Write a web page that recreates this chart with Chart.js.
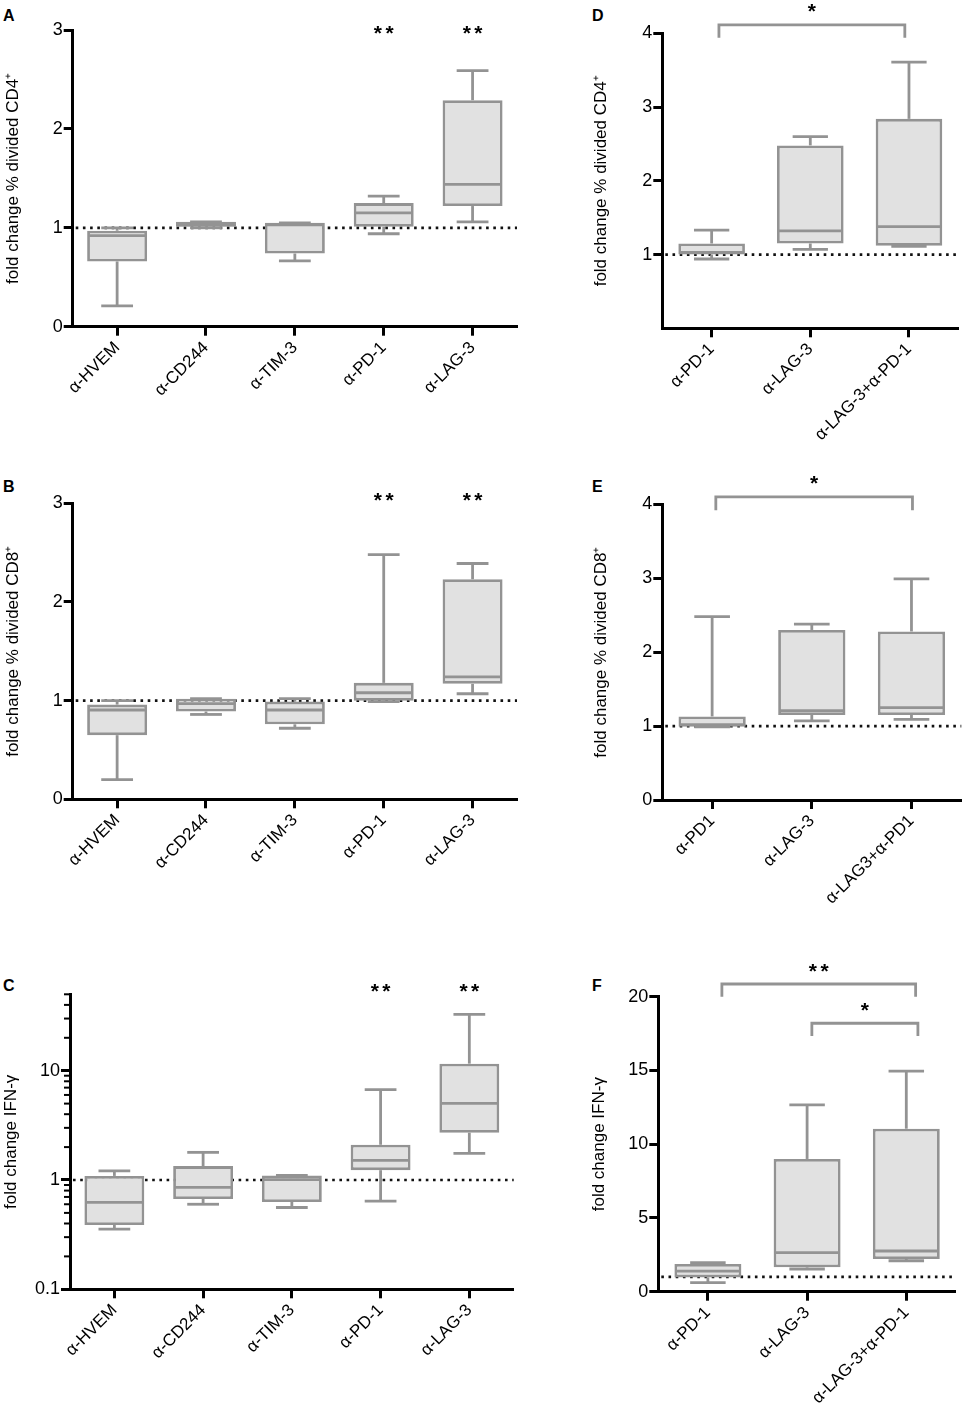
<!DOCTYPE html>
<html>
<head>
<meta charset="utf-8">
<script src="https://cdn.jsdelivr.net/npm/chart.js@4.4.1/dist/chart.umd.min.js"></script>
<style>
html,body{margin:0;padding:0;background:#fff;}
body{width:965px;height:1413px;position:relative;overflow:hidden;font-family:"Liberation Sans",Arial,Helvetica,sans-serif;}
canvas{position:absolute;}
.lbl{position:absolute;font-weight:bold;font-size:16px;line-height:1;color:#000;}
</style>
</head>
<body>
<div class="lbl" style="left:3px;top:8px;">A</div>
<div class="lbl" style="left:3px;top:479px;">B</div>
<div class="lbl" style="left:3px;top:978px;">C</div>
<div class="lbl" style="left:592px;top:8px;">D</div>
<div class="lbl" style="left:592px;top:479px;">E</div>
<div class="lbl" style="left:592px;top:978px;">F</div>
<canvas id="pA"></canvas>
<canvas id="pB"></canvas>
<canvas id="pC"></canvas>
<canvas id="pD"></canvas>
<canvas id="pE"></canvas>
<canvas id="pF"></canvas>
<script>
// ---------- categories ----------
const catsSingle = ['α-HVEM', 'α-CD244', 'α-TIM-3', 'α-PD-1', 'α-LAG-3'];
const catsComboD = ['α-PD-1', 'α-LAG-3', 'α-LAG-3+α-PD-1'];
const catsComboE = ['α-PD1', 'α-LAG-3', 'α-LAG3+α-PD1'];
const catsComboF = ['α-PD-1', 'α-LAG-3', 'α-LAG-3+α-PD-1'];

// ---------- A: fold change % divided CD4+ ----------
const cd4Min    = [0.21, 1.00, 0.665, 0.94, 1.06];
const cd4Q1     = [0.66, 1.01, 0.74, 1.01, 1.22];
const cd4Median = [0.92, 1.03, 1.03, 1.15, 1.44];
const cd4Q3     = [0.97, 1.06, 1.05, 1.25, 2.29];
const cd4Max    = [1.00, 1.06, 1.05, 1.32, 2.59];
const cd4Stars  = ['', '', '', '**', '**'];

// ---------- B: fold change % divided CD8+ ----------
const cd8Min    = [0.20, 0.86, 0.72, 0.99, 1.07];
const cd8Q1     = [0.65, 0.89, 0.76, 1.00, 1.17];
const cd8Median = [0.905, 0.97, 0.905, 1.08, 1.24];
const cd8Q3     = [0.96, 1.02, 0.99, 1.18, 2.23];
const cd8Max    = [1.00, 1.02, 1.02, 2.48, 2.39];
const cd8Stars  = ['', '', '', '**', '**'];

// ---------- C: fold change IFN-γ (log) ----------
const ifnMin    = [0.356, 0.60, 0.56, 0.64, 1.75];
const ifnQ1     = [0.388, 0.67, 0.63, 1.23, 2.71];
const ifnMedian = [0.625, 0.857, 1.01, 1.51, 5.03];
const ifnQ3     = [1.09, 1.34, 1.10, 2.10, 11.6];
const ifnMax    = [1.21, 1.79, 1.10, 6.7, 32.8];
const ifnStars  = ['', '', '', '**', '**'];

// ---------- D: combos CD4+ ----------
const dMin    = [0.94, 1.07, 1.11];
const dQ1     = [1.00, 1.15, 1.12];
const dMedian = [1.03, 1.32, 1.38];
const dQ3     = [1.15, 2.48, 2.84];
const dMax    = [1.33, 2.60, 3.61];

// ---------- E: combos CD8+ ----------
const eMin    = [0.99, 1.07, 1.09];
const eQ1     = [0.99, 1.15, 1.15];
const eMedian = [1.02, 1.21, 1.25];
const eQ3     = [1.13, 2.30, 2.28];
const eMax    = [2.48, 2.38, 2.99];

// ---------- F: combos IFN-γ ----------
const fMin    = [0.61, 1.54, 2.10];
const fQ1     = [0.97, 1.65, 2.22];
const fMedian = [1.40, 2.65, 2.76];
const fQ3     = [1.88, 9.00, 11.05];
const fMax    = [1.97, 12.66, 14.96];

// ---------- tick values ----------
const ticksA = [0, 1, 2, 3];
const ticksB = [0, 1, 2, 3];
const ticksCMajor = [0.1, 1, 10];
const ticksCMinor = [0.2, 0.3, 0.4, 0.5, 0.6, 0.7, 0.8, 0.9, 2, 3, 4, 5, 6, 7, 8, 9, 20, 30, 40, 50];
const ticksD = [1, 2, 3, 4];
const ticksE = [0, 1, 2, 3, 4];
const ticksF = [0, 5, 10, 15, 20];

// ---------- significance brackets (category index from/to, value levels) ----------
const dBrackets = [{from: 0.074, to: 1.958, top: 4.115, leg: 3.94, text: '*'}];
const eBrackets = [{from: 0.037, to: 2.01, top: 4.10, leg: 3.92, text: '*'}];
const fBrackets = [
  {from: 0.141, to: 2.094, top: 20.86, leg: 20.0, text: '**'},
  {from: 1.048, to: 2.117, top: 18.2, leg: 17.34, text: '*'}
];

const GRAY = '#939393', FILL = '#e1e1e1';
const LW = 2.8;
const FONT = '"Liberation Sans", Arial, Helvetica, sans-serif';
Chart.defaults.font.family = FONT;
Chart.defaults.color = '#000';

function boxPlugin(st) {
  return {
    id: 'boxwhisker',
    beforeDatasetsDraw(chart) {
      const {ctx, chartArea: a, scales: {y}} = chart;
      const py = y.getPixelForValue(1);
      ctx.save();
      ctx.strokeStyle = '#111';
      ctx.lineWidth = 2.7;
      ctx.setLineDash([2.6, 4.6]);
      ctx.beginPath(); ctx.moveTo(a.left + 3, py); ctx.lineTo(a.right, py); ctx.stroke();
      ctx.restore();
    },
    afterDatasetsDraw(chart) {
      const {ctx, chartArea: a, scales: {x, y}} = chart;
      const meta = chart.getDatasetMeta(0);
      ctx.save();
      ctx.strokeStyle = GRAY; ctx.lineWidth = LW; ctx.lineCap = 'butt';
      const seg = (x1, y1, x2, y2) => { ctx.beginPath(); ctx.moveTo(x1, y1); ctx.lineTo(x2, y2); ctx.stroke(); };
      meta.data.forEach((bar, i) => {
        const xc = x.getPixelForValue(i), bw = bar.width, cap = bw * 0.265;
        const pMax = y.getPixelForValue(st.max[i]), pQ3 = y.getPixelForValue(st.q3[i]);
        const pQ1 = y.getPixelForValue(st.q1[i]), pMin = y.getPixelForValue(st.min[i]);
        const pMed = y.getPixelForValue(st.med[i]);
        seg(xc, pQ3, xc, pMax); seg(xc - cap, pMax, xc + cap, pMax);
        seg(xc, pQ1, xc, pMin); seg(xc - cap, pMin, xc + cap, pMin);
        seg(xc - bw / 2 + 1, pMed, xc + bw / 2 - 1, pMed);
      });
      // minor ticks for log axes
      if (st.minorTicks) {
        ctx.strokeStyle = '#000'; ctx.lineWidth = 2;
        y.ticks.forEach(t => {
          if (!t.major) { const p = y.getPixelForValue(t.value); seg(a.left - 6, p, a.left, p); }
        });
      }
      ctx.fillStyle = '#000';
      ctx.font = 'bold 21px ' + FONT;
      ctx.textAlign = 'center'; ctx.textBaseline = 'alphabetic';
      const m = ctx.measureText('*');
      const dy = (m.actualBoundingBoxAscent - m.actualBoundingBoxDescent) / 2;
      const drawStars = (txt, cx, cy) => {
        const n = txt.length, gap = 11.7;
        for (let k = 0; k < n; k++) ctx.fillText('*', cx + (k - (n - 1) / 2) * gap, cy + dy);
      };
      ctx.strokeStyle = GRAY; ctx.lineWidth = LW; ctx.lineJoin = 'miter';
      (st.brackets || []).forEach(b => {
        const xa = x.getPixelForValue(b.from), xb = x.getPixelForValue(b.to);
        const pt = y.getPixelForValue(b.top), pl = y.getPixelForValue(b.leg);
        ctx.beginPath(); ctx.moveTo(xa, pl); ctx.lineTo(xa, pt); ctx.lineTo(xb, pt); ctx.lineTo(xb, pl); ctx.stroke();
        drawStars(b.text, (xa + xb) / 2, pt - 16.5);
      });
      (st.stars || []).forEach((t, i) => {
        if (t) drawStars(t, x.getPixelForValue(i), y.getPixelForValue(st.starLevel));
      });
      ctx.restore();
    }
  };
}

function makePanel(id, g, cats, st, yCfg, titleText, titleCX) {
  const canvas = document.getElementById(id);
  canvas.width = Math.round(g.cw); canvas.height = Math.round(g.ch);
  canvas.style.left = g.cx + 'px'; canvas.style.top = g.cy + 'px';
  canvas.style.width = Math.round(g.cw) + 'px'; canvas.style.height = Math.round(g.ch) + 'px';
  const yW = g.L - g.cx, padTop = g.T - g.cy, padRight = g.cx + g.cw - g.R, xH = g.cy + g.ch - g.B;
  const tFont = 17, lh = tFont * 1.2;
  const tickVals = yCfg.tickValues;
  const isMajor = yCfg.majorValues;
  new Chart(canvas, {
    type: 'bar',
    data: {
      labels: cats,
      datasets: [{
        data: cats.map((c, i) => [st.q1[i], st.q3[i]]),
        backgroundColor: FILL, borderColor: GRAY, borderWidth: LW, borderSkipped: false,
        barPercentage: 0.675, categoryPercentage: 1
      }]
    },
    options: {
      responsive: false, animation: false, devicePixelRatio: 1,
      layout: {padding: {top: padTop, right: padRight, left: 0, bottom: 0}},
      plugins: {legend: {display: false}, tooltip: {enabled: false}},
      scales: {
        x: {
          offset: true,
          grid: {display: true, drawOnChartArea: false, offset: false, drawTicks: true, tickLength: 9, tickWidth: 3, tickColor: '#000'},
          border: {display: true, color: '#000', width: 3},
          ticks: {autoSkip: false, maxRotation: 45, minRotation: 45, padding: 2, font: {size: 17}, color: '#000'},
          afterFit(s) { s.height = xH; s.paddingLeft = 0; s.paddingRight = 0; }
        },
        y: {
          type: yCfg.type || 'linear',
          min: yCfg.min, max: yCfg.max,
          grid: {display: true, drawOnChartArea: false, drawTicks: true, tickLength: 9, tickWidth: 3,
                 tickColor: (c) => (c.tick && isMajor && !isMajor.includes(c.tick.value)) ? 'rgba(0,0,0,0)' : '#000'},
          border: {display: true, color: '#000', width: 3},
          ticks: {autoSkip: false, padding: 1, font: {size: 18}, color: '#000',
                  callback: (v) => (isMajor && !isMajor.includes(v)) ? '' : String(v)},
          title: {display: true, text: titleText, font: {size: tFont}, color: '#000',
                  padding: {top: titleCX - g.cx - lh / 2, bottom: 0}},
          afterBuildTicks(s) {
            s.ticks = tickVals.slice().sort((p, q) => p - q).map(v => ({value: v, major: isMajor ? isMajor.includes(v) : true}));
          },
          afterFit(s) { s.width = yW; s.paddingTop = 0; s.paddingBottom = 0; }
        }
      }
    },
    plugins: [boxPlugin(st)]
  });
}

makePanel('pA', {cx: 0, cy: 0, cw: 530, ch: 465, L: 72.7, T: 30, R: 517, B: 326.7}, catsSingle,
  {min: cd4Min, q1: cd4Q1, med: cd4Median, q3: cd4Q3, max: cd4Max, stars: cd4Stars, starLevel: 3.0},
  {min: 0, max: 3, tickValues: ticksA}, 'fold change % divided CD4⁺', 13.5);

makePanel('pB', {cx: 0, cy: 470, cw: 530, ch: 465, L: 72.7, T: 503.3, R: 517, B: 799.3}, catsSingle,
  {min: cd8Min, q1: cd8Q1, med: cd8Median, q3: cd8Q3, max: cd8Max, stars: cd8Stars, starLevel: 3.066},
  {min: 0, max: 3, tickValues: ticksB}, 'fold change % divided CD8⁺', 13);

makePanel('pC', {cx: 0, cy: 940, cw: 530, ch: 473, L: 70, T: 994.3, R: 513.7, B: 1289.3}, catsSingle,
  {min: ifnMin, q1: ifnQ1, med: ifnMedian, q3: ifnQ3, max: ifnMax, stars: ifnStars, starLevel: 57, minorTicks: true},
  {type: 'logarithmic', min: 0.1, max: 50, tickValues: ticksCMajor.concat(ticksCMinor), majorValues: ticksCMajor},
  'fold change IFN-γ', 11.5);

makePanel('pD', {cx: 560, cy: 0, cw: 405, ch: 465, L: 662.3, T: 33.3, R: 958.3, B: 328.3}, catsComboD,
  {min: dMin, q1: dQ1, med: dMedian, q3: dQ3, max: dMax, brackets: dBrackets},
  {min: 0, max: 4, tickValues: ticksD}, 'fold change % divided CD4⁺', 601.5);

makePanel('pE', {cx: 560, cy: 470, cw: 405, ch: 465, L: 662.3, T: 504.3, R: 961.3, B: 800}, catsComboE,
  {min: eMin, q1: eQ1, med: eMedian, q3: eQ3, max: eMax, brackets: eBrackets},
  {min: 0, max: 4, tickValues: ticksE}, 'fold change % divided CD8⁺', 601.5);

makePanel('pF', {cx: 560, cy: 940, cw: 405, ch: 473, L: 658.3, T: 996.7, R: 955.9, B: 1291.7}, catsComboF,
  {min: fMin, q1: fQ1, med: fMedian, q3: fQ3, max: fMax, brackets: fBrackets},
  {min: 0, max: 20, tickValues: ticksF}, 'fold change IFN-γ', 599);
</script>
</body>
</html>
